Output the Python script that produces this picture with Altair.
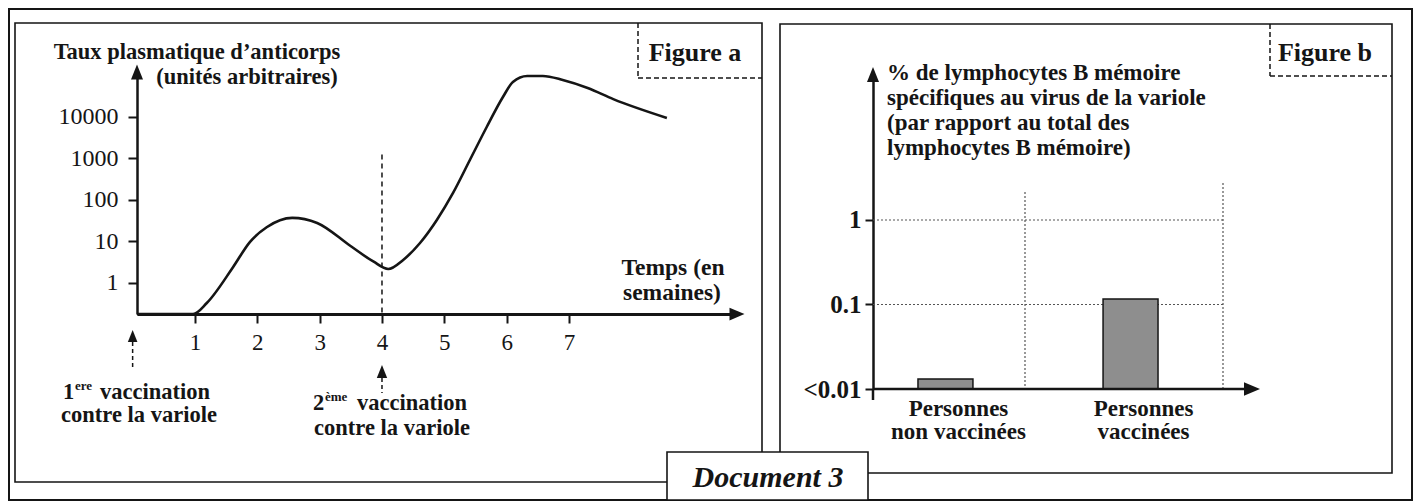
import altair as alt
import pandas as pd

# ---------------- data : Figure a ----------------
weeks = [0.07, 0.97, 1.19, 1.61, 1.88, 2.15, 2.56, 2.96, 3.49, 3.86, 4.10, 4.34,
         4.61, 4.88, 5.14, 5.41, 5.68, 5.94, 6.10, 6.33, 6.58, 6.90, 7.30, 7.71, 8.57]
antibody_level = [0.179, 0.179, 0.33, 2.4, 9.7, 22, 37, 28, 7.9, 3.3, 2.17, 3.6,
                  9.2, 33, 148, 920, 5740, 30300, 69700, 97300, 97300, 78000, 50000, 27000, 9500]
week_ticks = [1, 2, 3, 4, 5, 6, 7]
level_ticks = [1, 10, 100, 1000, 10000]
vaccination_weeks = [0, 4]
level_dash_top = 1250

# ---------------- data : Figure b ----------------
groups = ["Personnes non vaccinées", "Personnes vaccinées"]
memory_b_pct = [0.0131, 0.116]
pct_ticks = [0.01, 0.1, 1]
pct_grid = [0.1, 1]
pct_base = 0.01

# ---------------- layout helpers ----------------
W, H = 1405, 493
SERIF = "Liberation Serif"
INK = "#151515"
UP = "M0,-1L-0.8,1L0.8,1Z"
RIGHT = "M1,0L-1,-0.85L-1,0.85Z"
one = pd.DataFrame({"_": [0]})


def px(x):
    return x - 8


def py(y):
    return y - 8


def label(text, x, y, size=23, weight="bold", align="center", style="normal"):
    return alt.Chart(one).mark_text(
        text=text, font=SERIF, fontSize=size, fontWeight=weight, fontStyle=style,
        align=align, baseline="middle", color=INK
    ).encode(x=alt.value(px(x)), y=alt.value(py(y)))


def box(x1, y1, x2, y2, width=1.6, white=False):
    kw = dict(fill="white", fillOpacity=1) if white else dict(fillOpacity=0)
    return alt.Chart(one).mark_rect(stroke=INK, strokeWidth=width, **kw).encode(
        x=alt.value(px(x1)), x2=alt.value(px(x2)),
        y=alt.value(py(y1)), y2=alt.value(py(y2)))


def hline(x1, x2, y, dash=None, width=1.5, color=INK):
    kw = dict(strokeDash=dash) if dash else {}
    return alt.Chart(one).mark_rule(color=color, strokeWidth=width, **kw).encode(
        x=alt.value(px(x1)), x2=alt.value(px(x2)), y=alt.value(py(y)))


def vline(x, y1, y2, dash=None, width=1.5, color=INK):
    kw = dict(strokeDash=dash) if dash else {}
    return alt.Chart(one).mark_rule(color=color, strokeWidth=width, **kw).encode(
        x=alt.value(px(x)), y=alt.value(py(y1)), y2=alt.value(py(y2)))


# ---------------- Figure a ----------------
x_min, x_max = 0.07, 9.695
y_min, y_max = 0.179, 121400
xA = alt.Scale(domain=[x_min, x_max], range=[px(137), px(737)], nice=False, zero=False)
yA = alt.Scale(type="log", domain=[y_min, y_max], range=[py(314), py(72)], nice=False)
axis_xA = alt.Axis(orient="bottom", offset=-(H - py(314)), values=week_ticks, tickSize=9,
                   tickWidth=2, tickColor=INK, domainColor=INK, domainWidth=3,
                   labelFont=SERIF, labelFontSize=23, labelColor=INK, labelPadding=8,
                   labelAngle=0, title=None, grid=False)
axis_yA = alt.Axis(orient="left", offset=-px(137), values=level_ticks, tickSize=9,
                   tickWidth=2, tickColor=INK, domainColor=INK, domainWidth=2.5,
                   labelFont=SERIF, labelFontSize=24, labelColor=INK, labelPadding=10,
                   labelExpr="format(datum.value, 'd')", title=None, grid=False)

dfA = pd.DataFrame({"week": weeks, "level": antibody_level})
curve = alt.Chart(dfA).mark_line(interpolate="monotone", color=INK, strokeWidth=2.6).encode(
    x=alt.X("week:Q", scale=xA, axis=axis_xA),
    y=alt.Y("level:Q", scale=yA, axis=axis_yA))

second_dose_line = alt.Chart(one).mark_rule(color=INK, strokeWidth=1.5, strokeDash=[5, 4]).encode(
    x=alt.XDatum(vaccination_weeks[1], scale=xA, axis=axis_xA),
    y=alt.YDatum(level_dash_top, scale=yA, axis=axis_yA),
    y2=alt.Y2Datum(y_min))

arrow_yA = alt.Chart(one).mark_point(shape=UP, filled=True, size=225, opacity=1, color=INK).encode(
    x=alt.XDatum(x_min, scale=xA, axis=axis_xA), y=alt.YDatum(y_max, scale=yA, axis=axis_yA))
arrow_xA = alt.Chart(one).mark_point(shape=RIGHT, filled=True, size=225, opacity=1, color=INK).encode(
    x=alt.XDatum(x_max, scale=xA, axis=axis_xA), y=alt.YDatum(y_min, scale=yA, axis=axis_yA))

vacc_marks = []
for t, tip, base, stem_end in [(vaccination_weeks[0], 330, 342, 370), (vaccination_weeks[1], 365, 378, 393)]:
    s = base - tip
    vacc_marks.append(alt.Chart(one).mark_point(shape=UP, filled=True, size=s * s, opacity=1, color=INK).encode(
        x=alt.XDatum(t, scale=xA, axis=axis_xA), y=alt.value(py((tip + base) / 2))))
    vacc_marks.append(alt.Chart(one).mark_rule(color=INK, strokeWidth=1.5, strokeDash=[4, 3]).encode(
        x=alt.XDatum(t, scale=xA, axis=axis_xA), y=alt.value(py(base)), y2=alt.value(py(stem_end))))

panelA = alt.layer(second_dose_line, curve, arrow_yA, arrow_xA, *vacc_marks)

# ---------------- Figure b ----------------
xB = alt.Scale(type="band", domain=groups, range=[px(873), px(1203)],
               paddingInner=0.703, paddingOuter=0.243)
yB = alt.Scale(type="log", domain=[pct_base, 52.7], range=[py(389), py(74.5)], nice=False)
axis_xB = alt.Axis(orient="bottom", offset=-(H - py(389)), domain=False, ticks=False, tickSize=0,
                   labelExpr="[slice(datum.label, 0, indexof(datum.label, ' ')), "
                             "slice(datum.label, indexof(datum.label, ' ') + 1)]",
                   labelFont=SERIF, labelFontSize=23, labelFontWeight="bold", labelColor=INK,
                   labelLineHeight=23, labelPadding=8, labelOffset=13, labelAngle=0,
                   title=None, grid=False)
axis_yB = alt.Axis(orient="left", offset=-px(873), values=pct_ticks, tickSize=8, tickWidth=2,
                   tickColor=INK, domainColor=INK, domainWidth=2.5,
                   labelExpr="datum.value < 0.05 ? '<0.01' : format(datum.value, '~g')",
                   labelFont=SERIF, labelFontSize=25, labelFontWeight="bold", labelColor=INK,
                   labelPadding=4, title=None, grid=False)

grid_h = alt.Chart(pd.DataFrame({"pct": pct_grid})).mark_rule(
    color="#555", strokeWidth=1.2, strokeDash=[2, 2]).encode(
    y=alt.Y("pct:Q", scale=yB, axis=axis_yB),
    x=alt.value(px(873)), x2=alt.value(px(1223)))

dfB = pd.DataFrame({"group": groups, "pct": memory_b_pct})
bars = alt.Chart(dfB).mark_bar(fill="#8e8e8e", stroke=INK, strokeWidth=1.5).encode(
    x=alt.X("group:N", scale=xB, axis=axis_xB, sort=groups),
    y=alt.Y("pct:Q", scale=yB, axis=axis_yB),
    y2=alt.Y2Datum(pct_base))

x_axis_B = alt.Chart(one).mark_rule(color=INK, strokeWidth=2.5).encode(
    x=alt.value(px(873)), x2=alt.value(px(1246)), y=alt.YDatum(pct_base, scale=yB, axis=axis_yB))
arrow_xB = alt.Chart(one).mark_point(shape=RIGHT, filled=True, size=256, opacity=1, color=INK).encode(
    x=alt.value(px(1252)), y=alt.YDatum(pct_base, scale=yB, axis=axis_yB))
arrow_yB = alt.Chart(one).mark_point(shape=UP, filled=True, size=225, opacity=1, color=INK).encode(
    x=alt.value(px(873)), y=alt.YDatum(52.7, scale=yB, axis=axis_yB))

panelB = alt.layer(grid_h, bars, x_axis_B, arrow_xB, arrow_yB)

# ---------------- decorations ----------------
frames = [
    box(9, 9, 1412, 500, width=2),
    box(15, 23, 762, 482),
    box(780, 24, 1392, 473),
    vline(638, 23, 78, dash=[5, 3]), hline(638, 762, 78, dash=[5, 3]),
    vline(1270, 24, 76, dash=[5, 3]), hline(1270, 1392, 76, dash=[5, 3]),
    vline(1025, 192, 389, dash=[2, 2], width=1.2, color="#555"),
    vline(1223, 183, 389, dash=[2, 2], width=1.2, color="#555"),
    vline(873, 389, 400, width=2.5),
]

texts = [
    label("Taux plasmatique d\u2019anticorps", 197, 52, size=22.5),
    label("(unités arbitraires)", 247, 77, size=22.5),
    label("Figure a", 695, 53, size=26),
    label("Temps (en", 673, 268, size=23.5),
    label("semaines)", 672, 293, size=23.5),
    label("1", 63, 392, size=22.5, align="left"),
    label("ere", 75, 386, size=13, align="left"),
    label("vaccination", 100, 392, size=22.5, align="left"),
    label("contre la variole", 139, 415, size=22.5),
    label("2", 313, 403, size=22.5, align="left"),
    label("ème", 325, 397, size=13, align="left"),
    label("vaccination", 357, 403, size=22.5, align="left"),
    label("contre la variole", 392, 428, size=22.5),
    label("Figure b", 1325, 53, size=26),
    label("% de lymphocytes B mémoire", 887, 73, size=23, align="left"),
    label("spécifiques au virus de la variole", 887, 98, size=23, align="left"),
    label("(par rapport au total des", 887, 123, size=23, align="left"),
    label("lymphocytes B mémoire)", 887, 148, size=23, align="left"),
]

doc = [box(667, 452, 868, 500, white=True),
       label("Document 3", 768, 478, size=30, style="italic")]

chart = alt.layer(*frames, panelA, panelB, *texts, *doc).resolve_scale(
    x="independent", y="independent"
).properties(
    width=W, height=H, padding=0, autosize=alt.AutoSizeParams(type="none"),
    background="white"
).configure_view(strokeWidth=0).configure_axis(grid=False)

chart.save("out.html", embed_options={"renderer": "svg", "actions": False})
